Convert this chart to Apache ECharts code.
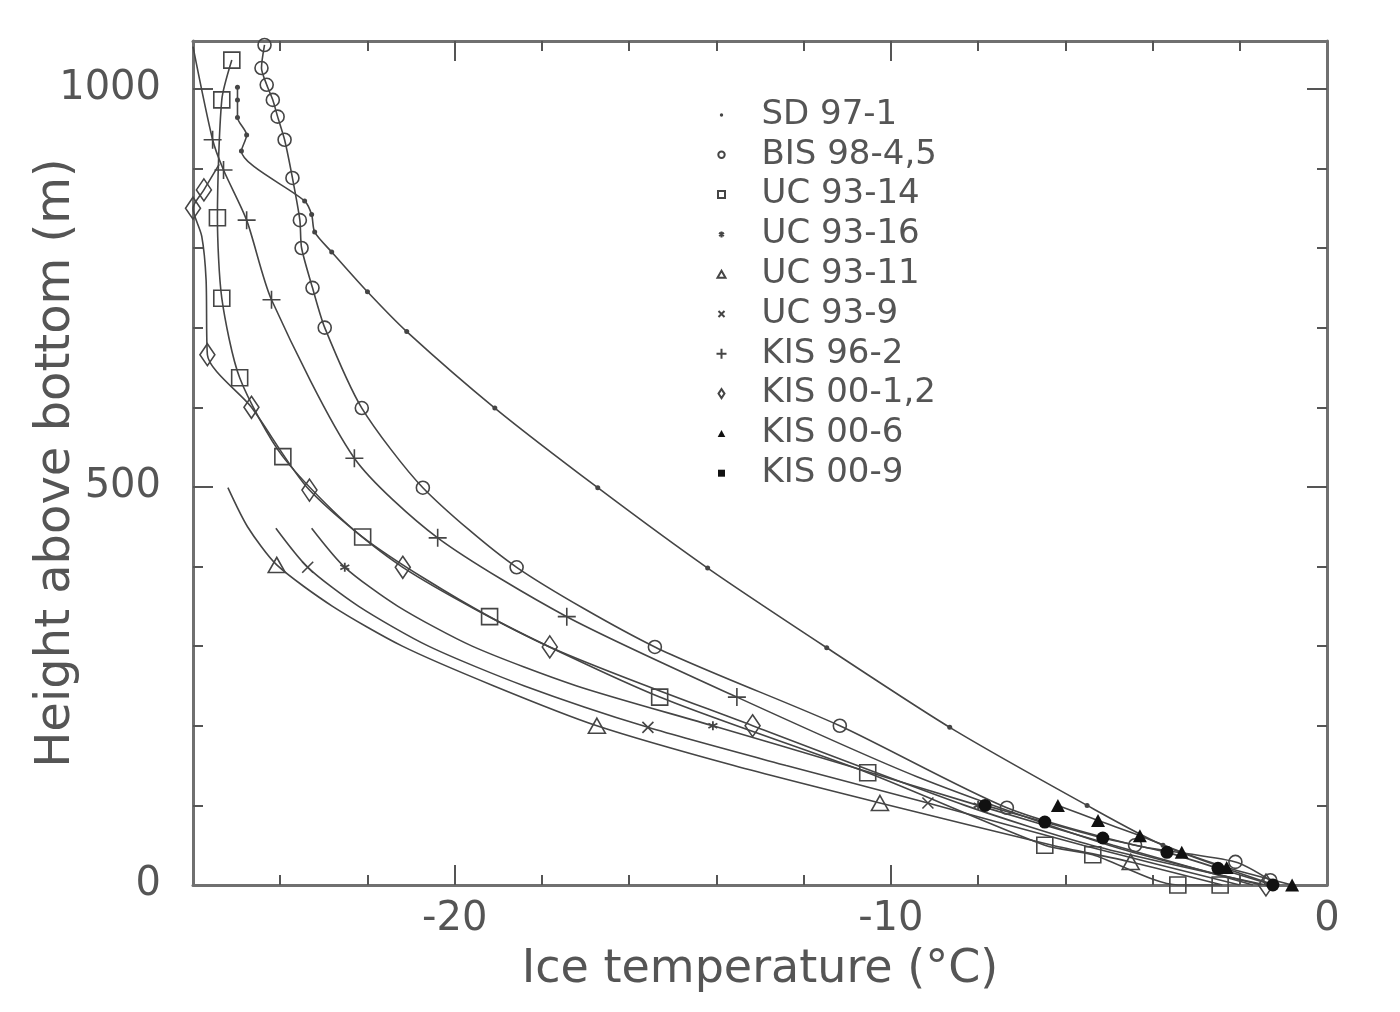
<!DOCTYPE html>
<html><head><meta charset="utf-8">
<script src="https://cdn.jsdelivr.net/npm/echarts@6/dist/echarts.min.js"></script>
<style>html,body{margin:0;padding:0;background:#fff}#c{width:1400px;height:1012px}</style>
</head><body><div id="c"></div>
<script>
// ---- axis values ----
const xMin = -26, xMax = 0, yMin = 0, yMax = 1060;
const xLabelValues = [-20, -10, 0];
const xMinorTicks = [-24, -22, -18, -16, -14, -12, -8, -6, -4, -2];
const xMajorTicks = [-20, -10];
const yLabelValues = [0, 500, 1000];
const yMinorTicks = [100, 200, 300, 400, 600, 700, 800, 900];
const yMajorTicks = [500, 1000];

// ---- series names ----
const seriesNames = ['SD 97-1', 'BIS 98-4,5', 'UC 93-14', 'UC 93-16', 'UC 93-11', 'UC 93-9', 'KIS 96-2', 'KIS 00-1,2', 'KIS 00-6', 'KIS 00-9'];

// ---- data: [temperature °C, height above bottom m] ----
const sd97Line = [[-24.98,1002],[-24.98,986],[-24.98,964],[-24.77,942],[-24.89,922],[-23.44,859],[-23.28,842],[-23.21,820],[-22.82,795],[-22.0,745],[-21.1,695],[-19.08,599],[-16.72,499],[-14.2,398],[-11.47,298],[-8.65,198],[-5.5,100],[-3.76,50],[-1.2,0]];
const sd97Marks = sd97Line;

const bisLine = [[-24.36,1055],[-24.43,1026],[-24.31,1005],[-24.17,986],[-24.06,965],[-23.9,936],[-23.72,888],[-23.55,835],[-23.51,800],[-23.26,750],[-22.98,700],[-22.13,599],[-20.73,499],[-18.58,399],[-15.41,299],[-11.17,200],[-7.34,97],[-4.4,50],[-2.1,29],[-1.3,6]];
const bisMarks = bisLine;

const uc14Line = [[-25.11,1036],[-25.34,986],[-25.44,838],[-25.34,737],[-24.93,637],[-23.94,538],[-22.11,437],[-19.2,337],[-15.3,236],[-10.53,141],[-6.47,50],[-5.37,38],[-3.42,0],[-2.45,0]];
const uc14Marks = uc14Line;

const uc16Line = [[-23.28,448],[-22.52,399],[-21.3,350],[-19.6,300],[-17.2,250],[-14.08,200],[-11.0,150],[-8.0,100],[-4.9,50],[-1.7,0]];
const uc16Marks = [[-22.52,399],[-14.08,200],[-8.0,100]];

const uc11Line = [[-25.2,499],[-24.75,450],[-24.08,402],[-22.8,350],[-21.2,300],[-19.1,250],[-16.74,200],[-13.6,150],[-10.25,103],[-6.3,50],[-4.5,29],[-2.4,0]];
const uc11Marks = [[-24.08,402],[-16.74,200],[-10.25,103],[-4.5,29]];

const uc9Line = [[-24.1,448],[-23.37,399],[-22.2,350],[-20.6,300],[-18.4,250],[-15.57,198],[-12.4,150],[-9.15,103],[-5.6,50],[-2.0,0]];
const uc9Marks = [[-23.37,399],[-15.57,198],[-9.15,103]];

const kis96Line = [[-26.0,1053],[-25.55,936],[-25.3,898],[-24.77,835],[-24.2,735],[-22.3,536],[-20.39,436],[-17.43,337],[-13.53,236],[-9.4,136],[-5.0,50],[-1.5,0]];
const kis96Marks = [[-25.55,936],[-25.3,898],[-24.77,835],[-24.2,735],[-22.3,536],[-20.39,436],[-17.43,337],[-13.53,236]];

const kis0012Line = [[-25.4,905],[-25.75,873],[-26.0,850],[-25.8,815],[-25.7,760],[-25.67,666],[-24.66,600],[-23.33,496],[-21.19,399],[-17.82,299],[-13.17,200],[-8.3,100],[-5.4,50],[-1.4,0]];
const kis0012Marks = [[-25.75,873],[-26.0,850],[-25.67,666],[-24.66,600],[-23.33,496],[-21.19,399],[-17.82,299],[-13.17,200],[-1.4,0]];

const kis006Line = [[-6.17,100],[-5.25,81],[-4.29,62],[-3.33,41],[-2.3,22],[-0.8,0]];
const kis006Marks = kis006Line;

const kis009Line = [[-7.84,100],[-6.47,79],[-5.14,59],[-3.67,41],[-2.5,21],[-1.24,0]];
const kis009Marks = kis009Line;

// ---- styling ----
const FONT = '"DejaVu Sans", "Liberation Sans", sans-serif';
const INK = '#454545';
const TEXT = '#555';
const CLEAR = 'rgba(255,255,255,0)';
const lineSets = [sd97Line, bisLine, uc14Line, uc16Line, uc11Line, uc9Line, kis96Line, kis0012Line, kis006Line, kis009Line];
const markSets = [sd97Marks, bisMarks, uc14Marks, uc16Marks, uc11Marks, uc9Marks, kis96Marks, kis0012Marks, kis006Marks, kis009Marks];

const P_X = 'path://M0,0L10,10M10,0L0,10';
const P_PLUS = 'path://M5,0L5,10M0,5L10,5';
const P_AST = 'path://M5,0L5,10M0.7,2.5L9.3,7.5M0.7,7.5L9.3,2.5';
const P_TRI = 'path://M5,0L10,9L0,9Z';
const P_DIA = 'path://M5,0L10,8L5,16L0,8Z';

const markStyle = [
  {symbol:'circle', size:5, item:{color:INK}},
  {symbol:'circle', size:13, item:{color:CLEAR, borderColor:INK, borderWidth:1.6}},
  {symbol:'rect', size:16, item:{color:CLEAR, borderColor:INK, borderWidth:1.6}},
  {symbol:P_AST, size:9, item:{color:'none', borderColor:INK, borderWidth:1.8}},
  {symbol:P_TRI, size:[17,15], item:{color:CLEAR, borderColor:INK, borderWidth:1.6}},
  {symbol:P_X, size:11, item:{color:'none', borderColor:INK, borderWidth:1.6}},
  {symbol:P_PLUS, size:18, item:{color:'none', borderColor:INK, borderWidth:1.6}},
  {symbol:P_DIA, size:[15,22], item:{color:CLEAR, borderColor:INK, borderWidth:1.6}},
  {symbol:'triangle', size:[14,13], item:{color:'#111'}},
  {symbol:'circle', size:13, item:{color:'#111'}}
];
const B = 'M0,0M12,12';
const legendIcons = [
  'path://' + B + 'M4.3,6A1.7,1.7,0,1,1,7.7,6A1.7,1.7,0,1,1,4.3,6Z',
  'path://' + B + 'M2.8,6A3.2,3.2,0,1,1,9.2,6A3.2,3.2,0,1,1,2.8,6Z',
  'path://' + B + 'M2.5,2.5L9.5,2.5L9.5,9.5L2.5,9.5Z',
  'path://' + B + 'M3.5,4.5L8.5,7.5M3.5,7.5L8.5,4.5M6,3L6,9',
  'path://' + B + 'M6,2.5L10,9.5L2,9.5Z',
  'path://' + B + 'M3,3L9,9M9,3L3,9',
  'path://' + B + 'M6,1L6,11M1,6L11,6',
  'path://' + B + 'M6,1.5L9,6L6,10.5L3,6Z',
  'path://' + B + 'M6,2.5L9.8,9.5L2.2,9.5Z',
  'path://' + B + 'M2.5,2.5L9.5,2.5L9.5,9.5L2.5,9.5Z'
];

const tickStyle = {color:'#555', width:2};
const axisLineStyle = {color:'#707070', width:3};
const plain = v => String(v);

function xAxisDef(position, showLine, ticks, len, labels, withName) {
  const a = {
    type:'value', min:xMin, max:xMax, position:position, gridIndex:0,
    axisLine:{show:showLine, onZero:false, lineStyle:axisLineStyle},
    axisTick:{show:true, inside:true, length:len, customValues:ticks, lineStyle:tickStyle},
    axisLabel:labels ? {show:true, customValues:labels, formatter:plain, margin:15, fontSize:40, color:TEXT, fontFamily:FONT} : {show:false},
    splitLine:{show:false}
  };
  if (withName) {
    a.name = 'Ice temperature (°C)';
    a.nameLocation = 'middle';
    a.nameGap = 62;
    a.nameMoveOverlap = false;
    a.nameTextStyle = {fontSize:46, color:TEXT, fontFamily:FONT};
  }
  return a;
}
function yAxisDef(position, showLine, ticks, len, labels, withName) {
  const a = {
    type:'value', min:yMin, max:yMax, position:position, gridIndex:0,
    axisLine:{show:showLine, onZero:false, lineStyle:axisLineStyle},
    axisTick:{show:true, inside:true, length:len, customValues:ticks, lineStyle:tickStyle},
    axisLabel:labels ? {show:true, customValues:labels, formatter:plain, margin:32, fontSize:40, color:TEXT, fontFamily:FONT} : {show:false},
    splitLine:{show:false}
  };
  if (withName) {
    a.name = 'Height above bottom (m)';
    a.nameLocation = 'middle';
    a.nameGap = 112;
    a.nameMoveOverlap = false;
    a.nameTextStyle = {fontSize:48, color:TEXT, fontFamily:FONT};
  }
  return a;
}

const series = [];
lineSets.forEach((pts, i) => {
  series.push({
    type:'line', name:seriesNames[i] + ' curve', data:pts, showSymbol:false, symbol:'none',
    smooth:0.25, lineStyle:{color:INK, width:1.6}, silent:true, z:2, xAxisIndex:0, yAxisIndex:0
  });
});
markSets.forEach((pts, i) => {
  const s = markStyle[i];
  series.push({
    type:'scatter', name:seriesNames[i], data:pts, symbol:s.symbol, symbolSize:s.size,
    itemStyle:Object.assign({opacity:1}, s.item), silent:true, z:3, xAxisIndex:0, yAxisIndex:0
  });
});

const chart = echarts.init(document.getElementById('c'), null, {renderer:'canvas'});
chart.setOption({
  animation:false,
  backgroundColor:'#fff',
  grid:{left:193, right:73, top:41, bottom:127, containLabel:false, outerBoundsMode:'none'},
  xAxis:[
    xAxisDef('bottom', true, xMinorTicks, 10, xLabelValues, true),
    xAxisDef('bottom', false, xMajorTicks, 20, null, false),
    xAxisDef('top', true, xMinorTicks, 10, null, false),
    xAxisDef('top', false, xMajorTicks, 20, null, false)
  ],
  yAxis:[
    yAxisDef('left', true, yMinorTicks, 10, yLabelValues, true),
    yAxisDef('left', false, yMajorTicks, 20, null, false),
    yAxisDef('right', true, yMinorTicks, 10, null, false),
    yAxisDef('right', false, yMajorTicks, 20, null, false)
  ],
  legend:{
    orient:'vertical', left:708, top:93, itemWidth:70, itemHeight:12, itemGap:5.8,
    symbolKeepAspect:true, selectedMode:false,
    textStyle:{fontFamily:FONT, fontSize:34, color:TEXT, lineHeight:34},
    data:seriesNames.map((n, i) => ({name:n, icon:legendIcons[i]}))
  },
  series:series
});
</script></body></html>
